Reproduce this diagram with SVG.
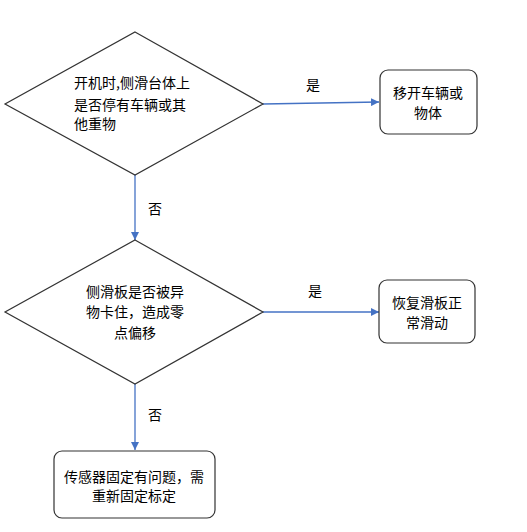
<svg xmlns="http://www.w3.org/2000/svg" width="527" height="532" viewBox="0 0 527 532">
<defs>
<style>
.shape{fill:#fff;stroke:#333;stroke-width:1.2}
.t{font-family:"Noto Sans CJK SC","Liberation Sans",sans-serif;font-size:14px;fill:#000}
.c{text-anchor:middle}
.conn{stroke:#4472C4;stroke-width:1.3;fill:none}
</style>
<marker id="ah" viewBox="0 0 10 10" refX="10" refY="5" markerWidth="8" markerHeight="8" markerUnits="userSpaceOnUse" orient="auto">
<path d="M0,0 L10,5 L0,10 z" fill="#4472C4"/>
</marker>
</defs>
<rect width="527" height="532" fill="#fff"/>
<g id="connectors">
<line class="conn" x1="263" y1="104" x2="379" y2="102" marker-end="url(#ah)"/>
<text class="t c" x="313" y="90">是</text>
<line class="conn" x1="135" y1="175" x2="135" y2="240" marker-end="url(#ah)"/>
<text class="t c" x="155" y="214">否</text>
<line class="conn" x1="263" y1="312" x2="379" y2="312" marker-end="url(#ah)"/>
<text class="t c" x="315" y="296">是</text>
<line class="conn" x1="135" y1="384" x2="135" y2="450" marker-end="url(#ah)"/>
<text class="t c" x="155" y="420">否</text>
</g>
<g id="d1">
<polygon class="shape" points="135,32 263,104 135,175 5,104"/>
<text class="t" x="74" y="88">开机时,侧滑台体上</text>
<text class="t" x="74" y="110">是否停有车辆或其</text>
<text class="t" x="74" y="129">他重物</text>
</g>
<g id="b1">
<rect class="shape" x="380" y="70" width="97" height="64" rx="8"/>
<text class="t c" x="428" y="98">移开车辆或</text>
<text class="t c" x="428" y="118">物体</text>
</g>
<g id="d2">
<polygon class="shape" points="135,240 263,312 135,384 5,312"/>
<text class="t c" x="135" y="297">侧滑板是否被异</text>
<text class="t c" x="135" y="317">物卡住，造成零</text>
<text class="t c" x="135" y="338">点偏移</text>
</g>
<g id="b2">
<rect class="shape" x="379" y="280" width="96" height="63" rx="8"/>
<text class="t c" x="427" y="308">恢复滑板正</text>
<text class="t c" x="427" y="328">常滑动</text>
</g>
<g id="b3">
<rect class="shape" x="54" y="451" width="161" height="67" rx="8"/>
<text class="t c" x="134" y="482">传感器固定有问题，需</text>
<text class="t c" x="134" y="501">重新固定标定</text>
</g>
</svg>
